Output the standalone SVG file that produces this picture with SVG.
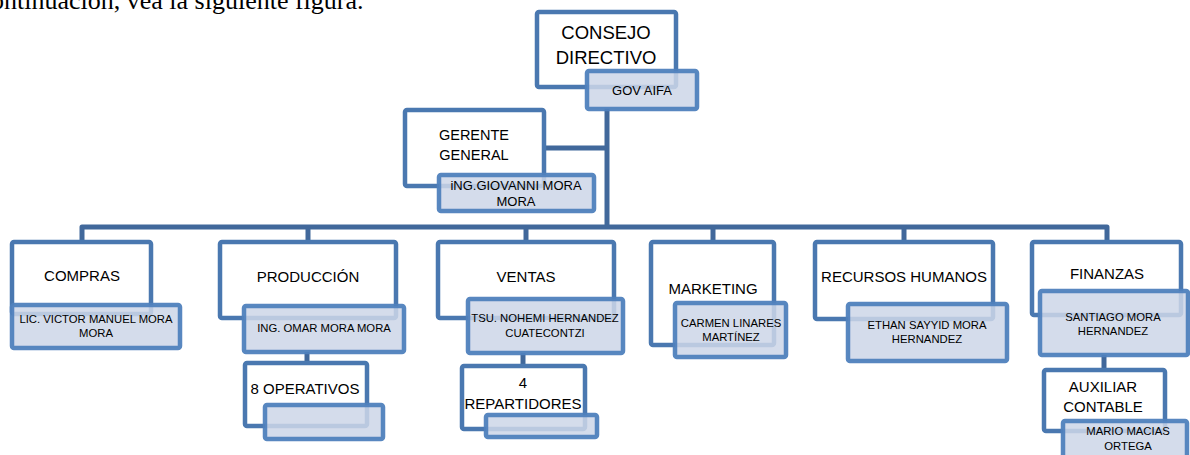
<svg xmlns="http://www.w3.org/2000/svg" width="1190" height="455" viewBox="0 0 1190 455">
<style>
.box{fill:#fff;stroke:#4A78B0;stroke-width:4.5}
.name{fill:#CDD6E8;fill-opacity:0.86;stroke:#4F81BD;stroke-width:4.5;stroke-opacity:0.95}
.con{fill:none;stroke:#41689B;stroke-width:5;stroke-linejoin:round}
text{font-family:"Liberation Sans",Arial,sans-serif;fill:#000;text-anchor:middle}
.t{font-size:15px}
.n{font-size:11.3px}
</style>
<rect width="1190" height="455" fill="#fff"/>
<text x="-9" y="9" style="font-family:'Liberation Serif','Times New Roman',serif;font-size:26px;text-anchor:start">ontinuación, vea la siguiente figura.</text>
<g id="connectors">
<path class="con" d="M607,108 V227"/>
<path class="con" d="M544,148 H607"/>
<path class="con" d="M82,242 V227 H1107 V242"/>
<path class="con" d="M308,227 V242"/>
<path class="con" d="M526,227 V242"/>
<path class="con" d="M713,227 V242"/>
<path class="con" d="M904,227 V242"/>
<path class="con" d="M307,352 V363"/>
<path class="con" d="M523,353 V366"/>
<path class="con" d="M1104,355 V370"/>
</g>
<g id="consejo">
<rect class="box" x="537" y="12" width="139" height="75" rx="2"/>
<text x="606" y="39" style="font-size:18.5px">CONSEJO</text>
<text x="606" y="64" style="font-size:18.5px">DIRECTIVO</text>
<rect class="name" x="587" y="71" width="110" height="38" rx="2"/>
<text x="642" y="95" style="font-size:13px">GOV AIFA</text>
</g>
<g id="gerente">
<rect class="box" x="405" y="110" width="139" height="76" rx="2"/>
<text x="474" y="140" style="font-size:14.5px">GERENTE</text>
<text x="474" y="160" style="font-size:14.5px">GENERAL</text>
<rect class="name" x="439" y="175" width="155" height="36" rx="2"/>
<text x="516" y="190" style="font-size:13px">iNG.GIOVANNI MORA</text>
<text x="516" y="206" style="font-size:13px">MORA</text>
</g>
<g id="compras">
<rect class="box" x="12" y="242" width="139" height="72" rx="2"/>
<text class="t" x="82" y="281">COMPRAS</text>
<rect class="name" x="12" y="305" width="168" height="43" rx="2"/>
<text class="n" x="96" y="323">LIC. VICTOR MANUEL MORA</text>
<text class="n" x="96" y="337">MORA</text>
</g>
<g id="produccion">
<rect class="box" x="220" y="242" width="176" height="76" rx="2"/>
<text class="t" x="308" y="282">PRODUCCIÓN</text>
<rect class="name" x="244" y="306" width="160" height="46" rx="2"/>
<text class="n" x="324" y="332">ING. OMAR MORA MORA</text>
</g>
<g id="operativos">
<rect class="box" x="245" y="363" width="122" height="63" rx="2"/>
<text class="t" x="305" y="394">8 OPERATIVOS</text>
<rect class="name" x="265" y="405" width="118" height="34" rx="2"/>
</g>
<g id="ventas">
<rect class="box" x="438" y="242" width="176" height="76" rx="2"/>
<text class="t" x="526" y="282">VENTAS</text>
<rect class="name" x="468" y="299" width="155" height="54" rx="2"/>
<text class="n" x="545" y="322">TSU. NOHEMI HERNANDEZ</text>
<text class="n" x="545" y="337">CUATECONTZI</text>
</g>
<g id="repartidores">
<rect class="box" x="462" y="366" width="123" height="63" rx="2"/>
<text class="t" x="523" y="388">4</text>
<text class="t" x="523" y="409">REPARTIDORES</text>
<rect class="name" x="486" y="415" width="111" height="22" rx="2"/>
</g>
<g id="marketing">
<rect class="box" x="651" y="242" width="123" height="103" rx="2"/>
<text class="t" x="713" y="294">MARKETING</text>
<rect class="name" x="675" y="303" width="111" height="54" rx="2"/>
<text class="n" x="731" y="327">CARMEN LINARES</text>
<text class="n" x="731" y="341">MARTÍNEZ</text>
</g>
<g id="rrhh">
<rect class="box" x="815" y="242" width="178" height="77" rx="2"/>
<text class="t" x="904" y="282">RECURSOS HUMANOS</text>
<rect class="name" x="848" y="304" width="159" height="57" rx="2"/>
<text class="n" x="927" y="329">ETHAN SAYYID MORA</text>
<text class="n" x="927" y="343">HERNANDEZ</text>
</g>
<g id="finanzas">
<rect class="box" x="1032" y="242" width="149" height="73" rx="2"/>
<text class="t" x="1107" y="279">FINANZAS</text>
<rect class="name" x="1040" y="291" width="148" height="64" rx="2"/>
<text class="n" x="1113" y="321">SANTIAGO MORA</text>
<text class="n" x="1113" y="335">HERNANDEZ</text>
</g>
<g id="auxiliar">
<rect class="box" x="1044" y="370" width="121" height="61" rx="2"/>
<text class="t" x="1103" y="392">AUXILIAR</text>
<text class="t" x="1103" y="412">CONTABLE</text>
<rect class="name" x="1063" y="421" width="124" height="40" rx="2"/>
<text class="n" x="1128" y="435">MARIO MACIAS</text>
<text class="n" x="1128" y="450">ORTEGA</text>
</g>
</svg>
